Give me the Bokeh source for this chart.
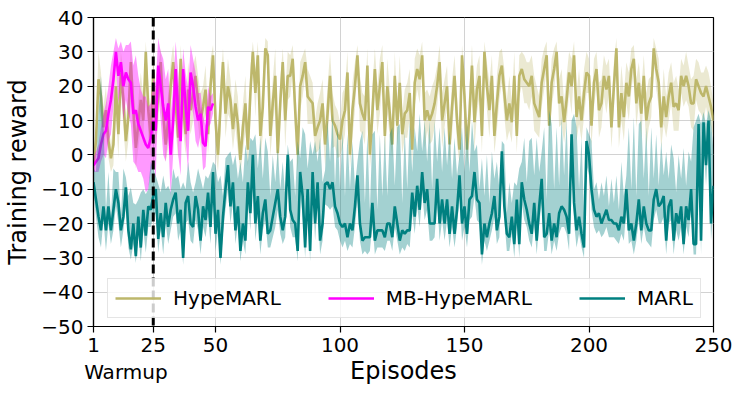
from bokeh.plotting import figure
from bokeh.models import FixedTicker, Span, Legend, LegendItem, LinearAxis
from bokeh.embed import file_html
from bokeh.resources import INLINE

# ---------------- data ----------------
episodes = list(range(1, 251))
mb_episodes = list(range(1, 50))

hype = [
    -3, 4, 22, 17, 8, 13, 4, -1, 3, 20,
    6, 24, 16, 4, 11, 27, 13, 2, 9, 16,
    10, 30, 13, 5, 24, 9, 17, 27, 12, 3,
    10, 20, 27, 15, 5, 28, 14, 6, 19, 13,
    18, 23, 16, 10, 14, 19, 6, 20, 29, 10,
    0, 14, 27, 12, 20, 16, 7.5, 15, 9, -1.5,
    8, 15, 1.5, 18, 30, 18, 29, 5.5, 14, 31,
    29, 5.5, 15, 23, 0.5, 15, 27, 10, 23, 23,
    28, 13, 0, 20, 23, 27, 17, 16, 15, 5.5,
    8, 10, 15, 3, 12, 23, 10, 8.5, 6, 4.5,
    10, 13, 24, 0, 13, 20, 29, 15, 12, 10,
    26, 0, 12, 25, 13, 20, 27, 5.5, 20, 12,
    3, 23, 8.5, 21, 6, 12, 13, 18, 1.5, 21,
    25, 22, 29, 10, 13, 10, 12, 15, 20, 27,
    10, 15, 20, 3, 14, 23, 10, 1.5, 29, 17,
    1.5, 12, 26, 9.5, 19, 23, 5.5, 30, 20, 13,
    23, 5.5, 15, 23, 26, 18, 10, 15, 9.5, 23,
    5.5, 23, 25, 22, 21, 20, 23, 15, 13, 11,
    21, 25, 29, 8.5, 21, 25, 30, 15, 17, 9.5,
    16, 24, 20, 29, 11, 17, 10, 18, 24, 23,
    8.5, 21, 25, 13, 15, 23, 19, 23, 8, 20,
    31, 8, 18, 11, 21, 17, 25, 28, 15, 21,
    12, 23, 10, 15, 17, 31, 25, 21, 8, 17,
    11, 17, 21, 14, 15, 13, 23, 20, 23, 20,
    15, 15, 22, 20, 18, 17, 20, 17, 14, 10,
]
hype_spread = [
    3, 5, 8, 7, 6, 7, 5, 4, 6, 8,
    7, 6, 8, 6, 7, 5, 8, 6, 7, 8,
    7, 3, 8, 6, 6, 7, 8, 4, 7, 5,
    8, 7, 5, 8, 6, 4, 7, 6, 8, 7,
    8, 6, 7, 8, 6, 7, 6, 8, 3, 9,
    5, 8, 4, 7, 8, 6, 6, 7, 8, 4,
    7, 8, 5, 8, 3, 7, 4, 7, 8, 3,
    4, 6, 7, 8, 5, 7, 4, 8, 7, 6,
    4, 8, 5, 7, 6, 4, 8, 7, 6, 5,
    7, 8, 7, 6, 8, 7, 8, 6, 7, 5,
    8, 7, 6, 4, 8, 7, 3, 8, 6, 7,
    5, 4, 8, 6, 7, 8, 5, 6, 8, 7,
    4, 7, 6, 8, 6, 7, 8, 7, 4, 7,
    6, 7, 4, 8, 6, 7, 8, 7, 6, 5,
    8, 7, 6, 5, 8, 6, 7, 4, 3, 7,
    5, 8, 6, 8, 7, 6, 5, 3, 7, 8,
    6, 5, 8, 7, 5, 7, 6, 8, 6, 7,
    5, 6, 5, 7, 6, 7, 6, 8, 7, 6,
    7, 6, 4, 6, 7, 6, 3, 7, 8, 6,
    7, 6, 8, 4, 7, 8, 6, 7, 6, 5,
    6, 7, 5, 8, 7, 6, 7, 5, 6, 7,
    3, 6, 8, 7, 6, 7, 6, 4, 7, 6,
    7, 6, 8, 7, 6, 3, 6, 7, 6, 8,
    6, 7, 6, 7, 8, 6, 5, 6, 7, 6,
    7, 8, 6, 7, 6, 7, 6, 7, 6, 5,
]

mb_hype = [
    -3, -2, -1, 3, 6, 7, 12, 16, 22, 30,
    23, 27, 20, 24, 22, 21, 12, 13, 9, 7,
    5, 3, 2, 5, 10, 7, 26, 20, 14, 10,
    15, 0, 10, 25, 12, 4, 25, 14, 7, 24,
    20, 14, 10, 12, 3.5, 2.5, 14, 13, 15,
]
mb_spread = [
    2, 3, 4, 5, 6, 8, 8, 10, 8, 4,
    8, 6, 10, 8, 10, 12, 14, 16, 14, 12,
    12, 14, 12, 10, 12, 14, 8, 10, 14, 12,
    10, 12, 10, 8, 12, 10, 6, 10, 12, 8,
    8, 10, 8, 6, 8, 6, 6, 4, 3,
]

marl = [
    -8, -13, -18, -22, -15, -22, -15, -22, -16, -10,
    -14, -22, -18, -9.5, -22, -27.5, -20, -29.5, -18, -27,
    -16, -23.5, -15, -16, -12, -10, -24.5, -17, -24, -14,
    -21, -16, -13, -11, -20, -16, -30, -14, -12, -20,
    -21, -12, -16, -25, -15, -19, -11, -21, -5, -23,
    -16, -30, -18, -10, -3, -15, -8, -22, -15, -28,
    -20, -25, -8, -17, 0, -20, -12, -25, -17, -13,
    -23, -22, -18, -14, -10, -18, -22, -18, 0, -16,
    -19, -20, -28, -5, -12, -27, -10, -28, -5, -20,
    -8, -25, -20, -8.5, -8, -10, -8, -15, -17, -20,
    -21, -20, -24, -20, -22, -15, -6, -20, -25, -24,
    -24, -24, -14, -25, -22, -22, -22, -24, -20, -20,
    -24, -15, -20, -25, -22, -23, -22, -22, -11, -18,
    -9, -16, -5, -14, -10, -20, -20, -20, -7, -20,
    -13, -20, -13, -23, -15, -23, -16, -6, -20, -15,
    -23, -13, -12, -5, -13, -14, -29, -20, -24, -20,
    -17, -12, -22, -18, 1, -15, -23, -24, -18, -26,
    -13, -26, -8, -13, -16, -20, -23, -14, -25, -15,
    -7, -24, -23, -17, -25, -20, -24, -17, -15, -16,
    -18, -23, 6, -14, -22, -18, -23, -27, 4, 0,
    -10, -16, -18, -17, -20, -18, -16, -19, -19, -20,
    -20, -22, -18, -20, -10, -22, -20, -25, -20, -13,
    -22, -15, -20, -22, -22, -13, -10, -15, -14, -12,
    -25, -15, -13, -25, -17, -20, -15, -26, -15, -19,
    -10, -26, -26, 9, -25, 9.5, -3, 10, -20, -9,
]
marl_up = [
    4, 8, 30, 45, 25, 6, 10, 4, 12, 5,
    9, 4, 14, 3, 10, 18, 6, 15, 5, 16,
    6, 12, 5, 14, 8, 4, 16, 6, 18, 4,
    12, 5, 9, 4, 14, 6, 22, 4, 10, 12,
    10, 4, 12, 18, 5, 13, 4, 16, 3, 20,
    8, 24, 6, 9, 3, 16, 5, 22, 8, 26,
    12, 28, 6, 22, 4, 26, 8, 30, 10, 18,
    24, 10, 18, 6, 12, 8, 20, 6, 3, 14,
    18, 8, 32, 4, 20, 33, 6, 32, 5, 24,
    6, 30, 12, 4, 18, 8, 20, 6, 26, 10,
    28, 8, 30, 10, 26, 6, 4, 24, 32, 10,
    30, 8, 20, 32, 6, 28, 10, 30, 8, 26,
    32, 6, 28, 34, 8, 30, 12, 32, 6, 26,
    10, 28, 6, 24, 8, 30, 10, 30, 5, 28,
    8, 28, 10, 30, 8, 28, 10, 6, 28, 10,
    32, 8, 22, 6, 16, 4, 28, 8, 24, 6,
    18, 5, 20, 8, 3, 18, 6, 16, 4, 18,
    4, 22, 6, 18, 8, 24, 28, 8, 30, 10,
    8, 32, 10, 30, 34, 10, 32, 8, 26, 10,
    28, 10, 4, 26, 30, 8, 28, 10, 4, 6,
    14, 6, 10, 4, 12, 6, 10, 4, 12, 6,
    14, 6, 16, 8, 4, 30, 10, 36, 8, 22,
    32, 8, 28, 10, 30, 6, 16, 6, 18, 6,
    26, 8, 16, 24, 6, 20, 8, 28, 6, 20,
    8, 34, 36, 3, 34, 3, 12, 3, 30, 10,
]
marl_dn = [
    3, 5, 6, 5, 4, 6, 5, 4, 6, 5,
    6, 5, 4, 6, 5, 3, 6, 2, 5, 4,
    6, 5, 6, 5, 6, 7, 4, 5, 5, 6,
    5, 6, 5, 6, 5, 6, 2, 6, 7, 5,
    5, 7, 6, 4, 6, 5, 7, 5, 6, 5,
    6, 2, 5, 6, 7, 5, 6, 4, 5, 3,
    5, 4, 6, 5, 7, 5, 6, 4, 5, 6,
    4, 5, 6, 7, 6, 5, 4, 6, 7, 5,
    5, 4, 3, 6, 6, 3, 6, 3, 6, 5,
    6, 4, 5, 6, 7, 6, 7, 6, 5, 5,
    6, 5, 4, 6, 5, 6, 7, 5, 4, 4,
    5, 4, 6, 4, 5, 5, 5, 4, 5, 5,
    4, 6, 5, 4, 5, 5, 4, 5, 6, 5,
    6, 5, 6, 5, 6, 5, 5, 4, 6, 5,
    6, 5, 6, 4, 6, 4, 5, 6, 5, 6,
    4, 6, 6, 7, 6, 6, 3, 5, 4, 5,
    5, 6, 4, 6, 5, 4, 5, 4, 5, 4,
    6, 4, 6, 6, 5, 5, 4, 6, 4, 5,
    7, 4, 5, 5, 4, 5, 4, 6, 6, 5,
    5, 5, 7, 6, 5, 5, 4, 3, 7, 6,
    6, 5, 5, 5, 4, 5, 5, 5, 5, 4,
    5, 4, 5, 5, 6, 4, 5, 4, 5, 6,
    4, 6, 5, 4, 5, 6, 6, 5, 6, 6,
    4, 5, 6, 4, 5, 5, 6, 3, 6, 5,
    6, 3, 3, 7, 4, 7, 6, 6, 5, 6,
]

series_names = ["HypeMARL", "MB-HypeMARL", "MARL"]
x_ticks = [1, 25, 50, 100, 150, 200, 250]
y_ticks = [-50, -40, -30, -20, -10, 0, 10, 20, 30, 40]
warmup_end = 25
warmup_text_at = 14

C_HYPE = "#BDB76B"
C_MB = "#FF00FF"
C_MARL = "#008080"
FONT = "DejaVu Sans"

# ---------------- figure ----------------
p = figure(width=735, height=387, x_range=(1, 250), y_range=(-50, 40),
           output_backend="svg", toolbar_location=None,
           min_border_left=93, min_border_right=22,
           min_border_top=17, min_border_bottom=61)
p.background_fill_color = "white"
p.border_fill_color = "white"
p.outline_line_color = "black"
p.outline_line_width = 1.2

hype_lo = [m - s for m, s in zip(hype, hype_spread)]
hype_hi = [m + s for m, s in zip(hype, hype_spread)]
mb_lo = [m - s for m, s in zip(mb_hype, mb_spread)]
mb_hi = [m + s for m, s in zip(mb_hype, mb_spread)]
marl_lo = [m - s for m, s in zip(marl, marl_dn)]
marl_hi = [m + s for m, s in zip(marl, marl_up)]

p.varea(x=episodes, y1=hype_lo, y2=hype_hi, fill_color=C_HYPE, fill_alpha=0.3)
r_h = p.line(episodes, hype, line_color=C_HYPE, line_width=2.6)
p.varea(x=mb_episodes, y1=mb_lo, y2=mb_hi, fill_color=C_MB, fill_alpha=0.4)
r_mb = p.line(mb_episodes, mb_hype, line_color=C_MB, line_width=2.6)
p.varea(x=episodes, y1=marl_lo, y2=marl_hi, fill_color=C_MARL, fill_alpha=0.36)
r_m = p.line(episodes, marl, line_color=C_MARL, line_width=2.6)

# axes
p.xaxis.ticker = FixedTicker(ticks=x_ticks)
p.yaxis.ticker = FixedTicker(ticks=y_ticks)
p.yaxis.major_label_overrides = {t: str(t).replace("-", "\u2212") for t in y_ticks}
for ax in (p.xaxis[0], p.yaxis[0]):
    ax.major_label_text_font = FONT
    ax.major_label_text_font_size = "20px"
    ax.major_label_text_color = "black"
    ax.axis_label_text_font = FONT
    ax.axis_label_text_font_style = "normal"
    ax.axis_label_text_color = "black"
    ax.axis_label_text_font_size = "24px"
    ax.axis_line_color = "black"
    ax.axis_line_width = 1.2
    ax.major_tick_line_color = "black"
    ax.major_tick_line_width = 1.2
    ax.major_tick_out = 6
    ax.major_tick_in = 0
    ax.minor_tick_line_color = None
p.yaxis.axis_label = "Training reward"
p.xaxis.major_label_standoff = 5
p.yaxis.major_label_standoff = 4
p.yaxis.axis_label_standoff = 6

# second bottom axis carrying the "Warmup" note and the "Episodes" title
ax2 = LinearAxis(ticker=FixedTicker(ticks=[warmup_text_at]),
                 major_label_overrides={warmup_text_at: "Warmup"})
ax2.axis_line_color = None
ax2.major_tick_line_color = None
ax2.minor_tick_line_color = None
ax2.major_tick_out = 0
ax2.major_tick_in = 0
ax2.major_label_standoff = 5
ax2.major_label_text_font = FONT
ax2.major_label_text_font_size = "20px"
ax2.major_label_text_color = "black"
ax2.axis_label = "Episodes"
ax2.axis_label_text_font = FONT
ax2.axis_label_text_font_style = "normal"
ax2.axis_label_text_font_size = "24px"
ax2.axis_label_text_color = "black"
ax2.axis_label_standoff = -30
p.add_layout(ax2, "below")

p.xgrid.ticker = FixedTicker(ticks=x_ticks)
p.ygrid.ticker = FixedTicker(ticks=y_ticks)
p.grid.grid_line_color = "#d2d2d2"
p.grid.grid_line_width = 1

vline = Span(location=warmup_end, dimension="height", line_color="black",
             line_width=3, line_dash="9 4")
p.add_layout(vline)

legend = Legend(items=[
    LegendItem(label=series_names[0], renderers=[r_h]),
    LegendItem(label=series_names[1], renderers=[r_mb]),
    LegendItem(label=series_names[2], renderers=[r_m]),
], orientation="horizontal", location=(14, 8))
legend.spacing = 47
legend.padding = 7
legend.margin = 0
legend.glyph_width = 46
legend.glyph_height = 20
legend.label_height = 20
legend.label_standoff = 12
legend.label_text_font = FONT
legend.label_text_font_size = "20px"
legend.label_text_color = "black"
legend.border_line_color = "#cccccc"
legend.border_line_width = 1
legend.background_fill_color = "white"
legend.background_fill_alpha = 0.8
p.add_layout(legend)

open("out.html", "w").write(file_html(p, INLINE))
